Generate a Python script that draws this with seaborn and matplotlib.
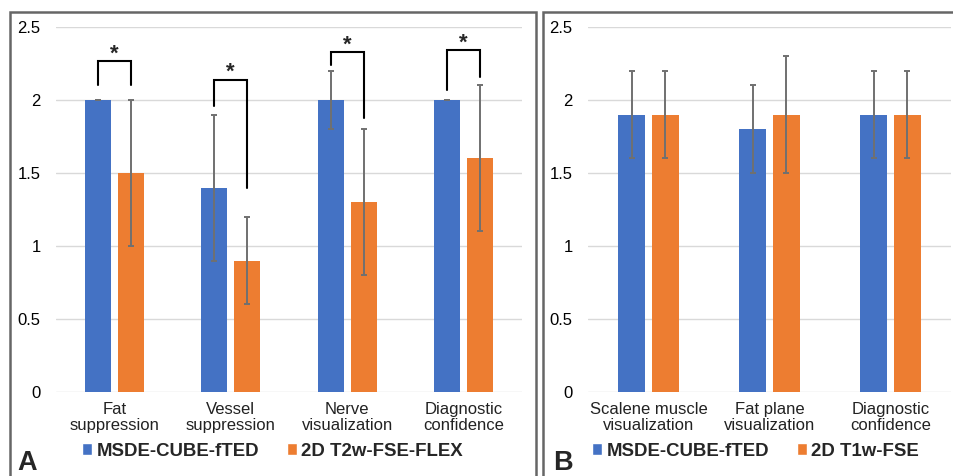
import numpy as np
import pandas as pd
import matplotlib.pyplot as plt
import seaborn as sns
from matplotlib.patches import Rectangle, Patch

# ---- data ----
cats_a = ["Fat\nsuppression", "Vessel\nsuppression", "Nerve\nvisualization", "Diagnostic\nconfidence"]
msde_a = [2.0, 1.4, 2.0, 2.0]
msde_a_sd = [0.0, 0.5, 0.2, 0.0]
flex_a = [1.5, 0.9, 1.3, 1.6]
flex_a_sd = [0.5, 0.3, 0.5, 0.5]
# significance brackets: (top, left leg bottom, right leg bottom)
brackets_a = [(2.27, 2.10, 2.10), (2.14, 1.96, 1.40), (2.33, 2.24, 1.88), (2.34, 2.07, 2.16)]

cats_b = ["Scalene muscle\nvisualization", "Fat plane\nvisualization", "Diagnostic\nconfidence"]
msde_b = [1.9, 1.8, 1.9]
msde_b_sd = [0.3, 0.3, 0.3]
t1_b = [1.9, 1.9, 1.9]
t1_b_sd = [0.3, 0.4, 0.3]

BLUE = "#4472C4"
ORANGE = "#ED7D31"

sns.set_theme(style="white")
plt.rcParams["font.family"] = ["Liberation Sans", "DejaVu Sans"]


def draw_panel(ax, cats, s1, s1_sd, s2, s2_sd, names, brackets=None):
    df = pd.DataFrame({
        "cat": cats * 2,
        "val": s1 + s2,
        "sd": s1_sd + s2_sd,
        "series": [names[0]] * len(cats) + [names[1]] * len(cats),
    })
    sns.barplot(data=df, x="cat", y="val", hue="series", palette=[BLUE, ORANGE],
                width=0.56, gap=0.2, errorbar=None, legend=False, ax=ax,
                linewidth=0, saturation=1)
    # bar centres from seaborn's own patches (order: series 1 cats, series 2 cats)
    bars = ax.patches[:2 * len(cats)]
    centres = [b.get_x() + b.get_width() / 2 for b in bars]
    ax.errorbar(centres, df["val"], yerr=df["sd"], fmt="none", ecolor="#707070",
                elinewidth=1.4, capsize=2.5, capthick=1.4, zorder=3)
    if brackets:
        n = len(cats)
        for i, (top, lb, rb) in enumerate(brackets):
            xl, xr = centres[i], centres[i + n]
            ax.plot([xl, xl, xr, xr], [lb, top, top, rb], color="black", lw=1.5,
                    solid_joinstyle="miter", zorder=4)
            ax.text((xl + xr) / 2, top - 0.025, "*", ha="center", va="bottom",
                    fontsize=16, fontweight="bold")
    ax.set_ylim(0, 2.5)
    ax.set_xlim(-0.5, len(cats) - 0.5)
    ax.set_yticks([0, 0.5, 1, 1.5, 2, 2.5])
    ax.set_yticklabels(["0", "0.5", "1", "1.5", "2", "2.5"], fontsize=12, color="black")
    ax.set_xticks(range(len(cats)))
    ax.set_xticklabels(cats, fontsize=12, color="#222222", linespacing=1.12)
    ax.tick_params(axis="both", length=0)
    ax.tick_params(axis="y", pad=11)
    ax.tick_params(axis="x", pad=7)
    ax.set_xlabel("")
    ax.set_ylabel("")
    ax.yaxis.grid(True, color="#d9d9d9", lw=1.0)
    ax.set_axisbelow(True)
    sns.despine(ax=ax, left=True, bottom=True)


fig = plt.figure(figsize=(9.54, 4.76), dpi=100)
W, H = 954, 476

def px_axes(x0, x1, ytop, ybot):
    return fig.add_axes([x0 / W, (H - ybot) / H, (x1 - x0) / W, (ybot - ytop) / H])

ax_a = px_axes(56, 522, 27, 392)
ax_b = px_axes(588, 951, 27, 392)

draw_panel(ax_a, cats_a, msde_a, msde_a_sd, flex_a, flex_a_sd,
           ["MSDE-CUBE-fTED", "2D T2w-FSE-FLEX"], brackets_a)
draw_panel(ax_b, cats_b, msde_b, msde_b_sd, t1_b, t1_b_sd,
           ["MSDE-CUBE-fTED", "2D T1w-FSE"])

# panel frames
for x0, x1 in [(10, 536), (543, 960)]:
    fig.patches.append(Rectangle((x0 / W, -0.05), (x1 - x0) / W, (H - 12) / H + 0.05,
                                 transform=fig.transFigure, fill=False,
                                 edgecolor="#666666", lw=1.8))

# panel letters
fig.text(17 / W, (H - 470) / H, "A", fontsize=19.5, fontweight="bold", ha="left", va="baseline")
fig.text(553 / W, (H - 470) / H, "B", fontsize=19.5, fontweight="bold", ha="left", va="baseline")

# legends
for names, xanchor in [(["MSDE-CUBE-fTED", "2D T2w-FSE-FLEX"], 82),
                       (["MSDE-CUBE-fTED", "2D T1w-FSE"], 592)]:
    handles = [Patch(facecolor=BLUE), Patch(facecolor=ORANGE)]
    fig.legend(handles, names, loc="center left", bbox_to_anchor=(xanchor / W, (H - 451) / H),
               ncol=2, frameon=False, handlelength=0.55, handleheight=0.55,
               handletextpad=0.25, columnspacing=1.45, borderaxespad=0, borderpad=0,
               prop={"weight": "bold", "size": 13.4})

fig.savefig("out.png", dpi=100)
